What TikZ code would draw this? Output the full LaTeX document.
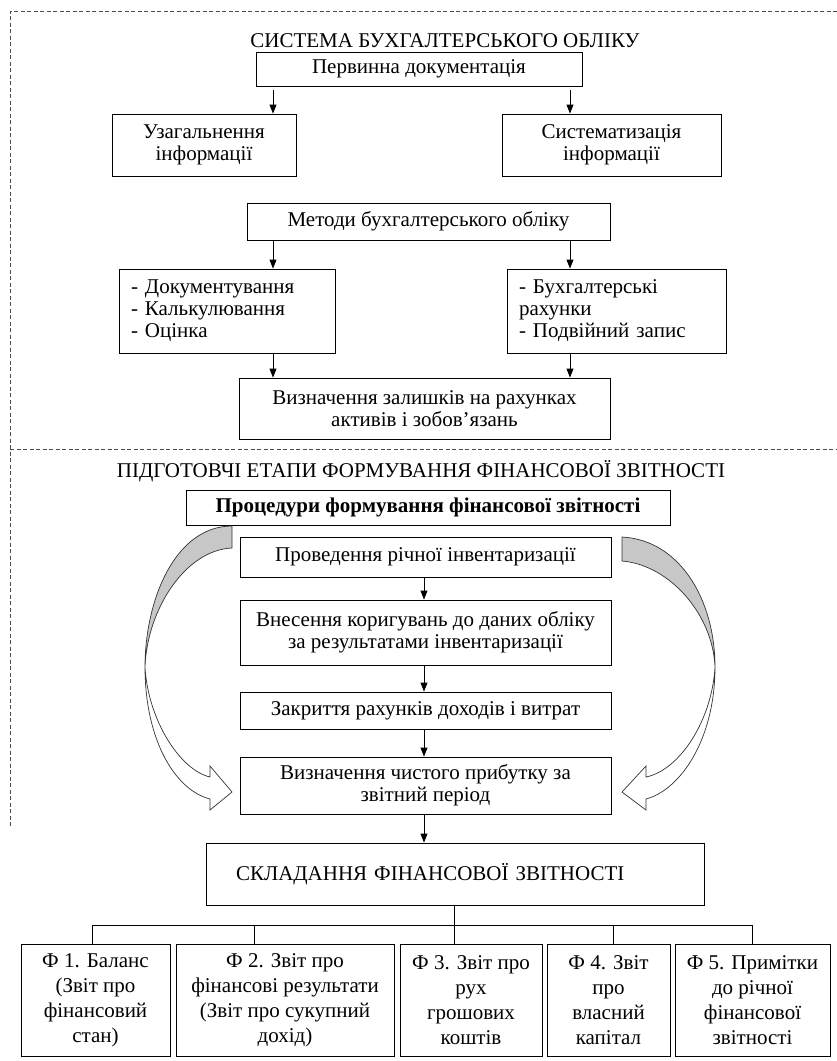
\documentclass[tikz,border=0pt]{standalone}
\usepackage{fontspec}
\setmainfont{Liberation Serif}
\usetikzlibrary{arrows.meta, calc}
\newcommand{\normsz}{\fontsize{21}{22}\selectfont}
\newcommand{\formsz}{\fontsize{21}{25}\selectfont}

\begin{document}
\begin{tikzpicture}[x=1pt, y=-1pt, >={Triangle[length=9pt, width=7pt]}, line width=0.9pt,
        blk/.style={draw, align=center, font=\normsz},
        lst/.style={draw, align=left, inner xsep=12pt, font=\normsz},
        frm/.style={draw=black!70, line width=0.7pt, dash pattern=on 4pt off 2.5pt},
        form/.style={draw, align=center, inner sep=2pt, font=\formsz, minimum height=112pt},
        band/.style={draw=black!80, line width=0.7pt}]
        \useasboundingbox (0,0) rectangle (837,1061);

        % dashed frame
        \coordinate (frTL) at (10,11);
        \coordinate (frTR) at (837,11);
        \coordinate (frBL) at (10,828);
        \coordinate (midL) at (10,449);
        \coordinate (midR) at (837,449);
        \draw[frm] (frTR) -- (frTL) -- (frBL);
        \draw[frm] (midL) -- (midR);

        % columns of the arrows
        \coordinate (colL) at (273,0);
        \coordinate (colR) at (570,0);
        \coordinate (colM) at (424,0);

        \node[font=\normsz] (ttlA) at (445,41) {СИСТЕМА БУХГАЛТЕРСЬКОГО ОБЛІКУ};
        \node[blk, minimum width=326pt, minimum height=34pt] (prim) at (419,69) {Первинна документація};
        \node[blk, minimum width=184pt, minimum height=62pt] (uzag) at (204,145) {Узагальнення\\інформації};
        \node[blk, minimum width=219pt, minimum height=62pt] (syst) at (611.5,145) {Систематизація\\інформації};
        \node[blk, minimum width=363pt, minimum height=37pt] (metod) at (428.5,221.5) {Методи бухгалтерського обліку};
        \node[lst, text width=192pt, minimum height=84pt] (docum) at (227,311) {- Документування\\- Калькулювання\\- Оцінка};
        \node[lst, text width=195pt, minimum height=84pt] (rahun) at (616.5,311) {- Бухгалтерські\\рахунки\\- Подвійний запис};
        \node[blk, minimum width=371pt, minimum height=61pt] (zalish) at (424.5,408.5) {Визначення залишків на рахунках\\активів і зобов’язань};
        \draw[->, shorten <=4pt] (prim.south -| colL) -- (uzag.north -| colL);
        \draw[->, shorten <=4pt] (prim.south -| colR) -- (syst.north -| colR);
        \draw[->] (metod.south -| colL) -- (docum.north -| colL);
        \draw[->] (metod.south -| colR) -- (rahun.north -| colR);
        \draw[->] (docum.south -| colL) -- (zalish.north -| colL);
        \draw[->] (rahun.south -| colR) -- (zalish.north -| colR);

        \node[font=\normsz] (ttlB) at (421,471) {ПІДГОТОВЧІ ЕТАПИ ФОРМУВАННЯ ФІНАНСОВОЇ ЗВІТНОСТІ};
        \node[blk, font=\normsz\bfseries, minimum width=484pt, minimum height=35pt] (proc) at (428,507.5) {Процедури формування фінансової звітності};
        \node[blk, minimum width=371pt, minimum height=40pt] (inv) at (425.5,557) {Проведення річної інвентаризації};
        \node[blk, minimum width=371pt, minimum height=65pt] (koryg) at (425.5,632.5) {Внесення коригувань до даних обліку\\за результатами інвентаризації};
        \node[blk, minimum width=371pt, minimum height=37pt] (zakr) at (425.5,710.5) {Закриття рахунків доходів і витрат};
        \node[blk, minimum width=371pt, minimum height=57pt] (prybut) at (425.5,785.5) {Визначення чистого прибутку за\\звітний період};
        \draw[->] (inv.south -| colM) -- (koryg.north -| colM);
        \draw[->] (koryg.south -| colM) -- (zakr.north -| colM);
        \draw[->] (zakr.south -| colM) -- (prybut.north -| colM);

        % curved arrows
        \filldraw[band, fill=black!22] (232,526) .. controls (175,526) and (145,600) .. (145,667)
            .. controls (147,610) and (185,550) .. (232,548) -- cycle;
        \filldraw[band, fill=white] (145,667) .. controls (148,720) and (180,770) .. (210,777)
            -- (210,766) -- (232,792) -- (210,810) -- (210,799)
            .. controls (175,790) and (145,740) .. (145,667) -- cycle;
        \filldraw[band, fill=black!22] (622,537) .. controls (680,540) and (715,600) .. (715,667)
            .. controls (713,615) and (670,565) .. (622,561) -- cycle;
        \filldraw[band, fill=white] (715,667) .. controls (712,720) and (680,770) .. (646,777)
            -- (646,766) -- (622,792) -- (646,810) -- (646,799)
            .. controls (680,790) and (715,740) .. (715,667) -- cycle;

        \node[draw, align=left, inner xsep=30pt, text width=438pt, minimum height=62pt, font=\normsz] (sklad) at (455,874) {СКЛАДАННЯ ФІНАНСОВОЇ ЗВІТНОСТІ};
        \draw[->] (prybut.south -| colM) -- (sklad.north -| colM);

        \node[form, minimum width=149pt] (f1) at (95.5,1000) {Ф 1. Баланс\\(Звіт про\\фінансовий\\стан)};
        \node[form, minimum width=218pt] (f2) at (285,1000) {Ф 2. Звіт про\\фінансові результати\\(Звіт про сукупний\\дохід)};
        \node[form, minimum width=142pt] (f3) at (471,1000) {Ф 3. Звіт про\\рух\\грошових\\коштів};
        \node[form, minimum width=123pt] (f4) at (608.5,1000) {Ф 4. Звіт\\про\\власний\\капітал};
        \node[form, minimum width=155pt] (f5) at (752.5,1000) {Ф 5. Примітки\\до річної\\фінансової\\звітності};
        \coordinate (bus) at (454,925);
        \draw (sklad.south -| bus) -- (bus);
        \draw ([xshift=-3.5pt]f1.north) |- (bus);
        \draw ([xshift=-31pt]f2.north) |- (bus);
        \draw ([xshift=-17pt]f3.north) |- (bus);
        \draw ([xshift=4.5pt]f4.north) |- (bus);
        \draw (f5.north) |- (bus);
    \end{tikzpicture}
\end{document}
